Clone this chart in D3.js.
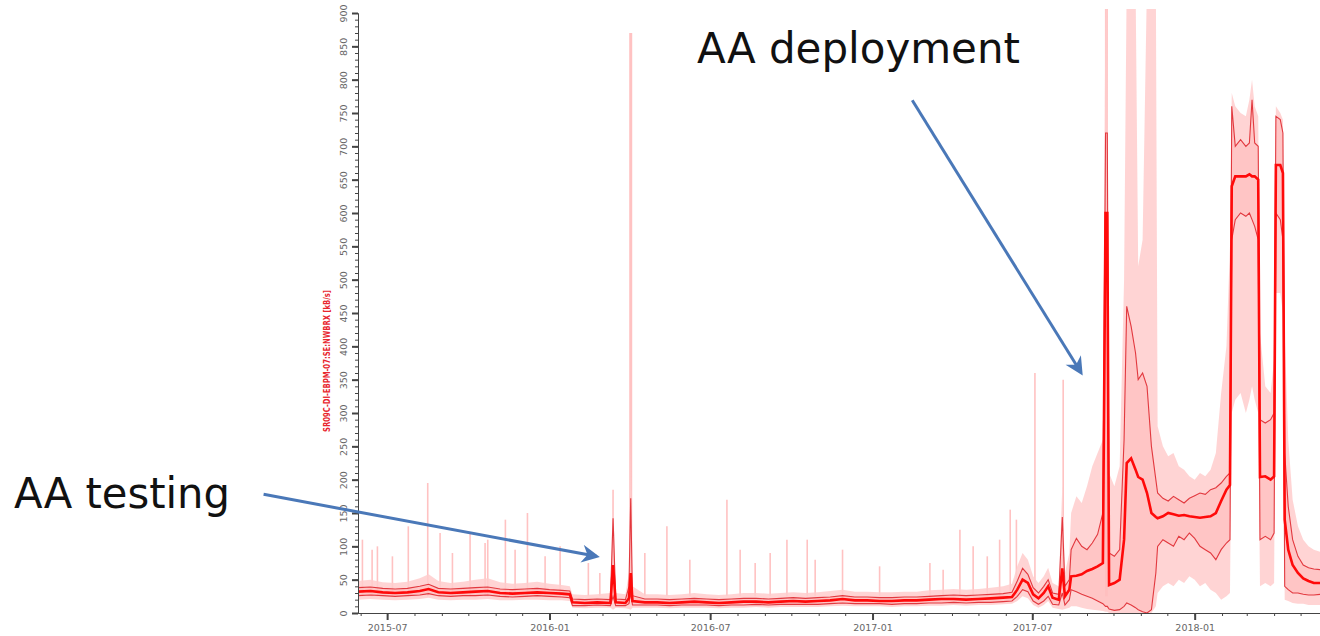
<!DOCTYPE html>
<html>
<head>
<meta charset="utf-8">
<script src="https://cdn.jsdelivr.net/npm/d3@7"></script>
<style>
  body { margin: 0; background: #fff; }
  .axis path, .axis line { stroke: #444; }
  .axis text { fill: #666; font-family: "DejaVu Sans", sans-serif; }
</style>
</head>
<body>
<script>
// archived PV samples: date, outer envelope (min/max), std lines, mean
var dates = [
  "2015-05-29","2015-06-12","2015-06-26","2015-07-10","2015-07-24","2015-08-07","2015-08-17","2015-08-28",
  "2015-09-11","2015-09-25","2015-10-09","2015-10-23","2015-11-06","2015-11-20","2015-12-04","2015-12-18",
  "2016-01-01","2016-01-15","2016-01-24","2016-01-27",
  "2016-02-10","2016-02-24","2016-03-10","2016-03-13","2016-03-16","2016-03-27","2016-03-31","2016-04-02",
  "2016-04-04","2016-04-18","2016-05-02","2016-05-16","2016-05-30","2016-06-13","2016-06-27","2016-07-11",
  "2016-07-25","2016-08-08","2016-08-22","2016-09-05","2016-09-19","2016-10-03","2016-10-17","2016-10-31",
  "2016-11-14","2016-11-28","2016-12-12","2016-12-26","2017-01-09","2017-01-23","2017-02-06","2017-02-20",
  "2017-03-06","2017-03-20","2017-04-03","2017-04-17","2017-05-01","2017-05-15","2017-05-29","2017-06-08",
  "2017-06-14","2017-06-20","2017-06-26","2017-07-02","2017-07-08","2017-07-14","2017-07-19","2017-07-24",
  "2017-07-31","2017-08-04","2017-08-07","2017-08-12","2017-08-14","2017-08-20","2017-08-26","2017-09-01",
  "2017-09-07","2017-09-13","2017-09-19","2017-09-22","2017-09-24","2017-09-26","2017-10-02","2017-10-08",
  "2017-10-13","2017-10-16","2017-10-21","2017-10-26","2017-10-29","2017-11-03","2017-11-08","2017-11-13",
  "2017-11-18","2017-11-20","2017-11-26","2017-12-02","2017-12-08","2017-12-14","2017-12-20","2017-12-26",
  "2018-01-01","2018-01-07","2018-01-13","2018-01-19","2018-01-25","2018-01-31","2018-02-06","2018-02-10",
  "2018-02-12","2018-02-16","2018-02-22","2018-02-28","2018-03-04","2018-03-07","2018-03-10","2018-03-14",
  "2018-03-16","2018-03-22","2018-03-28","2018-04-01","2018-04-03","2018-04-08","2018-04-11","2018-04-13",
  "2018-04-17","2018-04-22","2018-04-28","2018-05-04","2018-05-10","2018-05-16","2018-05-23"
];
var bandLow = [
  20,21,20,19,20,21,23,20, 19,20,20,21,19,19,20,20, 19,19,18,8,
  7,8,8,5,8,7,6,5, 8,8,8,7,8,8,8,7, 8,8,9,8,9,9,9,9,
  10,11,10,10,10,9,10,10, 11,11,12,11,12,12,13,14, 18,25,22,12,8,12,18,8,
  6,5,6,8,10,10,8,6, 5,4,3,2,2,0,0,0, 0,0,0,0,0,0,0,0,
  10,30,40,45,40,50,45,55, 50,40,45,35,30,20,25,30, 300,320,330,300,320,340,320,300,
  40,45,40,45,480,480,450,20, 18,15,14,14,12,12,12
];
var lowLine = [
  26,27,26,25,26,27,29,26, 25,26,26,27,25,24,25,26, 25,24,23,11,
  11,12,11,25,11,11,14,30, 12,12,12,11,12,12,12,11, 12,12,13,12,13,13,13,13,
  14,15,14,14,14,13,14,14, 15,15,16,15,16,16,17,18, 25,35,32,18,13,18,25,13,
  12,30,12,20,35,32,28,25, 22,18,14,10,10,6,4,5, 10,15,12,8,5,2,0,5,
  60,100,110,105,100,115,110,120, 112,100,95,90,80,95,105,110, 560,590,600,595,600,590,580,560,
  110,115,110,120,600,590,560,40, 35,30,30,28,27,27,28
];
var meanLine = [
  32,33,31,30,31,33,36,31, 30,31,32,33,30,29,30,31, 30,29,28,16,
  15,16,15,72,16,15,22,60, 18,16,16,15,16,17,16,15, 16,17,17,16,17,18,17,18,
  19,21,19,19,18,18,19,19, 20,21,21,20,21,22,23,24, 35,50,45,28,22,30,40,23,
  20,67,25,35,55,56,58,63, 66,70,75,600,600,42,45,50, 110,225,232,215,204,200,180,150,
  144,142,145,150,148,146,147,145, 144,143,144,145,150,168,185,192, 640,655,655,655,658,655,655,650,
  204,205,200,205,672,672,660,140, 95,72,60,52,48,45,45
];
var highLine = [
  38,39,37,36,37,40,43,37, 36,37,38,39,36,35,36,37, 35,34,33,21,
  20,21,20,142,21,20,40,172, 26,21,21,20,21,22,21,20, 21,22,22,21,22,23,22,23,
  24,26,24,24,23,23,24,24, 25,26,27,26,27,28,29,31, 48,67,58,38,30,40,50,30,
  28,144,40,50,95,112,100,95, 105,118,150,720,720,90,85,95, 260,460,430,390,350,360,340,250,
  200,180,172,168,175,170,165,172, 176,180,178,185,188,195,205,210, 760,700,710,700,705,770,705,700,
  290,285,290,300,745,740,720,240, 160,110,85,72,68,66,65
];
var bandHigh = [
  48,50,46,45,47,52,58,48, 45,47,50,52,46,44,45,47, 44,42,40,28,
  27,28,30,185,30,28,60,260, 40,28,28,27,28,30,28,27, 28,30,30,29,30,31,30,31,
  33,35,32,32,31,31,32,32, 34,35,36,35,36,38,40,44, 70,90,80,55,45,55,68,45,
  40,190,60,90,150,175,165,190, 220,240,260,950,950,210,190,220, 500,950,950,950,520,560,950,950,
  950,280,250,235,240,220,215,205, 200,210,205,215,240,330,400,550, 780,760,750,745,770,800,760,745,
  420,340,330,380,760,750,740,420, 260,170,130,110,100,95,92
];

// isolated short excursions of the max envelope
var spikeDates = [
  "2015-06-03","2015-06-14","2015-06-20","2015-07-07","2015-07-25","2015-08-16","2015-08-30","2015-09-13",
  "2015-10-03","2015-10-20","2015-10-23","2015-11-12","2015-11-23","2015-12-07","2015-12-27","2016-01-13",
  "2016-02-14","2016-02-27","2016-03-13","2016-04-02","2016-04-18","2016-05-13","2016-06-08","2016-07-20",
  "2016-08-04","2016-08-21","2016-09-07","2016-09-26","2016-10-19","2016-10-28","2016-11-28","2017-01-09",
  "2017-03-07","2017-03-22","2017-04-10","2017-04-25","2017-05-11","2017-05-25","2017-06-06","2017-06-13",
  "2017-07-04","2017-08-05","2017-09-23"
];
var spikeVals = [
  110,95,100,85,130,195,120,90,
  120,105,110,140,95,150,85,100,
  75,60,185,870,90,130,80,170,
  95,75,90,110,110,80,95,70,
  75,65,125,100,85,110,155,140,
  360,350,950
];

var xTickLabels = ["2015-07","2016-01","2016-07","2017-01","2017-07","2018-01"];
var yTickLabels = [0,50,100,150,200,250,300,350,400,450,500,550,600,650,700,750,800,850,900];

// annotation arrows in data coordinates: [date, value]
var arrowStart = [["2015-02-11", 178], ["2017-02-15", 769]];
var arrowEnd = [["2016-02-23", 85], ["2017-08-25", 361]];

var w = 1320, h = 636;
var parse = d3.timeParse("%Y-%m-%d");
var parseMonth = d3.timeParse("%Y-%m");

var svg = d3.select("body").append("svg")
    .attr("width", w)
    .attr("height", h);

var x = d3.scaleTime()
    .domain([parse("2015-05-29"), parse("2018-05-23")])
    .range([358, 1320]);
var y = d3.scaleLinear()
    .domain([0, 900])
    .range([613, 13]);

var rows = dates.map(function(d, i){
    return { date: parse(d), bMin: bandLow[i], lo: lowLine[i], mean: meanLine[i], hi: highLine[i], bMax: bandHigh[i] };
});

svg.append("clipPath").attr("id", "plotclip")
  .append("rect")
    .attr("x", 358).attr("y", 9)
    .attr("width", 962).attr("height", 604);

var plot = svg.append("g").attr("clip-path", "url(#plotclip)");

//thin pale spikes
plot.selectAll(".spike")
    .data(spikeDates)
    .enter()
    .append("line")
    .attr("class", "spike")
    .attr("x1", function(d){ return x(parse(d)); })
    .attr("x2", function(d){ return x(parse(d)); })
    .attr("y1", y(25))
    .attr("y2", function(d, i){ return y(spikeVals[i]); })
    .style("stroke", "#ffc2c2")
    .style("stroke-width", function(d, i){ return spikeVals[i] > 500 ? 3 : 1.6; });

//outer min/max envelope
plot.append("path")
    .datum(rows)
    .attr("d", d3.area()
        .x(function(d){ return x(d.date); })
        .y0(function(d){ return y(d.bMin); })
        .y1(function(d){ return y(d.bMax); }))
    .style("fill", "#ffcccc")
    .style("opacity", 0.85);

//inner band
plot.append("path")
    .datum(rows)
    .attr("d", d3.area()
        .x(function(d){ return x(d.date); })
        .y0(function(d){ return y(d.lo); })
        .y1(function(d){ return y(d.hi); }))
    .style("fill", "#ffa8a8")
    .style("opacity", 0.35);

["lo", "hi"].forEach(function(k){
    plot.append("path")
        .datum(rows)
        .attr("d", d3.line()
            .x(function(d){ return x(d.date); })
            .y(function(d){ return y(d[k]); }))
        .style("fill", "none")
        .style("stroke", "#dd1f26")
        .style("stroke-width", 1.1)
        .style("opacity", 0.85);
});

plot.append("path")
    .datum(rows)
    .attr("d", d3.line()
        .x(function(d){ return x(d.date); })
        .y(function(d){ return y(d.mean); }))
    .style("fill", "none")
    .style("stroke", "#ff0a0a")
    .style("stroke-width", 2.6);

//x axis: monthly minor ticks + half-year labels
svg.append("g")
    .attr("class", "axis")
    .attr("transform", "translate(0," + 613 + ")")
    .call(d3.axisBottom(x).ticks(d3.timeMonth.every(1)).tickSize(3).tickSizeOuter(0).tickFormat(""));

var xAxis = svg.append("g")
    .attr("class", "axis")
    .attr("transform", "translate(0," + 613 + ")")
    .call(d3.axisBottom(x)
        .tickValues(xTickLabels.map(function(s){ return parseMonth(s); }))
        .tickSize(7).tickSizeOuter(0).tickPadding(4)
        .tickFormat(d3.timeFormat("%Y-%m")));
xAxis.selectAll(".tick line").style("stroke-width", 2);
xAxis.selectAll("text").style("font-size", "9.5px");

//y axis with rotated labels
svg.append("g")
    .attr("class", "axis")
    .attr("transform", "translate(358,0)")
    .call(d3.axisLeft(y).tickValues(d3.range(0, 901, 10)).tickSize(3).tickSizeOuter(0).tickFormat(""));

var yAxis = svg.append("g")
    .attr("class", "axis")
    .attr("transform", "translate(358,0)")
    .call(d3.axisLeft(y).tickValues(yTickLabels).tickSize(6).tickSizeOuter(0));
yAxis.selectAll(".tick line").style("stroke-width", 2);
yAxis.selectAll("text")
    .attr("transform", "rotate(-90)")
    .attr("x", 0)
    .attr("y", -11)
    .attr("dy", 0)
    .attr("text-anchor", "middle")
    .style("font-size", "9.5px");

//y axis title
svg.append("text")
    .attr("transform", "translate(330,361) rotate(-90)")
    .attr("text-anchor", "middle")
    .attr("textLength", 142)
    .attr("lengthAdjust", "spacingAndGlyphs")
    .style("font-family", "'DejaVu Sans', sans-serif")
    .style("font-weight", "bold")
    .style("font-size", "8.5px")
    .style("fill", "#e8262e")
    .text("SR09C-DI-EBPM-07:SE:NWBRX [kB/s]");

//annotations
svg.append("defs").append("marker")
    .attr("id", "head")
    .attr("viewBox", "0 0 10 10")
    .attr("refX", 8).attr("refY", 5)
    .attr("markerWidth", 7).attr("markerHeight", 6)
    .attr("markerUnits", "strokeWidth")
    .attr("orient", "auto")
  .append("path")
    .attr("d", "M0,0 L10,5 L0,10 L3,5 Z")
    .style("fill", "#4a78b8");

svg.selectAll(".arrow")
    .data(arrowStart)
    .enter()
    .append("line")
    .attr("class", "arrow")
    .attr("x1", function(d){ return x(parse(d[0])); })
    .attr("y1", function(d){ return y(d[1]); })
    .attr("x2", function(d, i){ return x(parse(arrowEnd[i][0])); })
    .attr("y2", function(d, i){ return y(arrowEnd[i][1]); })
    .attr("marker-end", "url(#head)")
    .style("stroke", "#4a78b8")
    .style("stroke-width", 3);

svg.append("text")
    .attr("x", 697).attr("y", 63)
    .attr("textLength", 323)
    .attr("lengthAdjust", "spacingAndGlyphs")
    .style("font-family", "'DejaVu Sans', sans-serif")
    .style("font-size", "43px")
    .style("fill", "#111")
    .text("AA deployment");

svg.append("text")
    .attr("x", 14).attr("y", 508)
    .attr("textLength", 216)
    .attr("lengthAdjust", "spacingAndGlyphs")
    .style("font-family", "'DejaVu Sans', sans-serif")
    .style("font-size", "43px")
    .style("fill", "#111")
    .text("AA testing");
</script>
</body>
</html>
